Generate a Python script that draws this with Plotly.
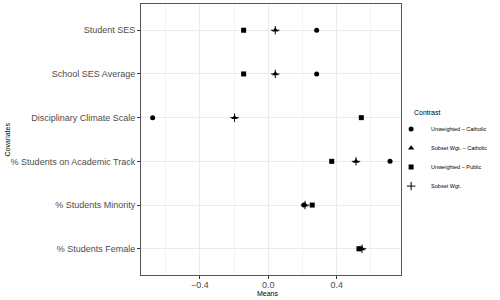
import plotly.graph_objects as go

covariates = ["Student SES", "School SES Average", "Disciplinary Climate Scale",
              "% Students on Academic Track", "% Students Minority", "% Students Female"]
unweighted_catholic = [0.283, 0.283, -0.676, 0.712, 0.208, 0.535]
subset_wgt_catholic = [0.041, 0.041, -0.197, 0.513, 0.215, 0.548]
unweighted_public = [-0.144, -0.144, 0.544, 0.371, 0.257, 0.530]
subset_wgt = [0.041, 0.041, -0.197, 0.513, 0.215, 0.548]
series_names = ["Unweighted \u2013 Catholic", "Subset Wgt. \u2013 Catholic",
                "Unweighted \u2013 Public", "Subset Wgt."]
legend_title = "Contrast"
x_ticks = [-0.4, 0.0, 0.4]
x_tick_labels = ["\u22120.4", "0.0", "0.4"]

FONT = "Liberation Sans, Arial, sans-serif"
fig = go.Figure()
specs = [
    (unweighted_catholic, dict(symbol="circle", size=5, color="black")),
    (subset_wgt_catholic, dict(symbol="triangle-up", size=5.5, color="black")),
    (unweighted_public, dict(symbol="square", size=5, color="black")),
    (subset_wgt, dict(symbol="cross-thin", size=6, color="black",
                      line=dict(width=1, color="black"))),
]
for name, (vals, mk) in zip(series_names, specs):
    fig.add_trace(go.Scatter(x=vals, y=covariates, mode="markers", name=name,
                             marker=mk))

fig.update_layout(
    width=500, height=300,
    margin=dict(l=141, r=99, t=4, b=25),
    plot_bgcolor="white", paper_bgcolor="white",
    font=dict(family=FONT, color="#4d4d4d", size=9),
    legend=dict(x=0.962, y=0.592, xanchor="left", yanchor="top",
                font=dict(size=5.5, color="black"),
                tracegroupgap=0, itemwidth=30, bgcolor="rgba(0,0,0,0)"),
    showlegend=True,
    annotations=[
        dict(text="Means", xref="paper", yref="paper", x=0.49, y=0, yshift=-18,
             showarrow=False, font=dict(size=7, color="black"), yanchor="middle"),
        dict(text="Covariates", xref="paper", yref="paper", x=0, xshift=-134,
             y=0.5, textangle=-90, showarrow=False,
             font=dict(size=7, color="black"), xanchor="center"),
        dict(text=legend_title, xref="paper", yref="paper", x=1.043, y=0.6,
             xanchor="left", yanchor="middle", showarrow=False,
             font=dict(size=7, color="black")),
    ],
)
fig.update_xaxes(
    range=[-0.744, 0.776], tickvals=x_ticks, ticktext=x_tick_labels,
    automargin=False, ticklabelstandoff=-2,
    showgrid=True, gridcolor="#ebebeb", gridwidth=1,
    minor=dict(tickvals=[-0.6, -0.2, 0.2, 0.6], showgrid=True, gridcolor="#f3f3f3", gridwidth=0.6),
    zeroline=False, ticks="outside", ticklen=3, tickcolor="#333",
    showline=True, linecolor="#555", linewidth=1, mirror=True,
    tickfont=dict(size=9, color="#4d4d4d"),
)
fig.update_yaxes(
    categoryorder="array", categoryarray=covariates[::-1],
    range=[-0.6, 5.6], automargin=False,
    showgrid=True, gridcolor="#ebebeb", gridwidth=1,
    ticks="outside", ticklen=3, tickcolor="#333",
    showline=True, linecolor="#555", linewidth=1, mirror=True,
    tickfont=dict(size=9, color="#4d4d4d"),
)
fig.write_html("out.html", config={"displayModeBar": False},
               post_script="document.body.style.margin='0';")
